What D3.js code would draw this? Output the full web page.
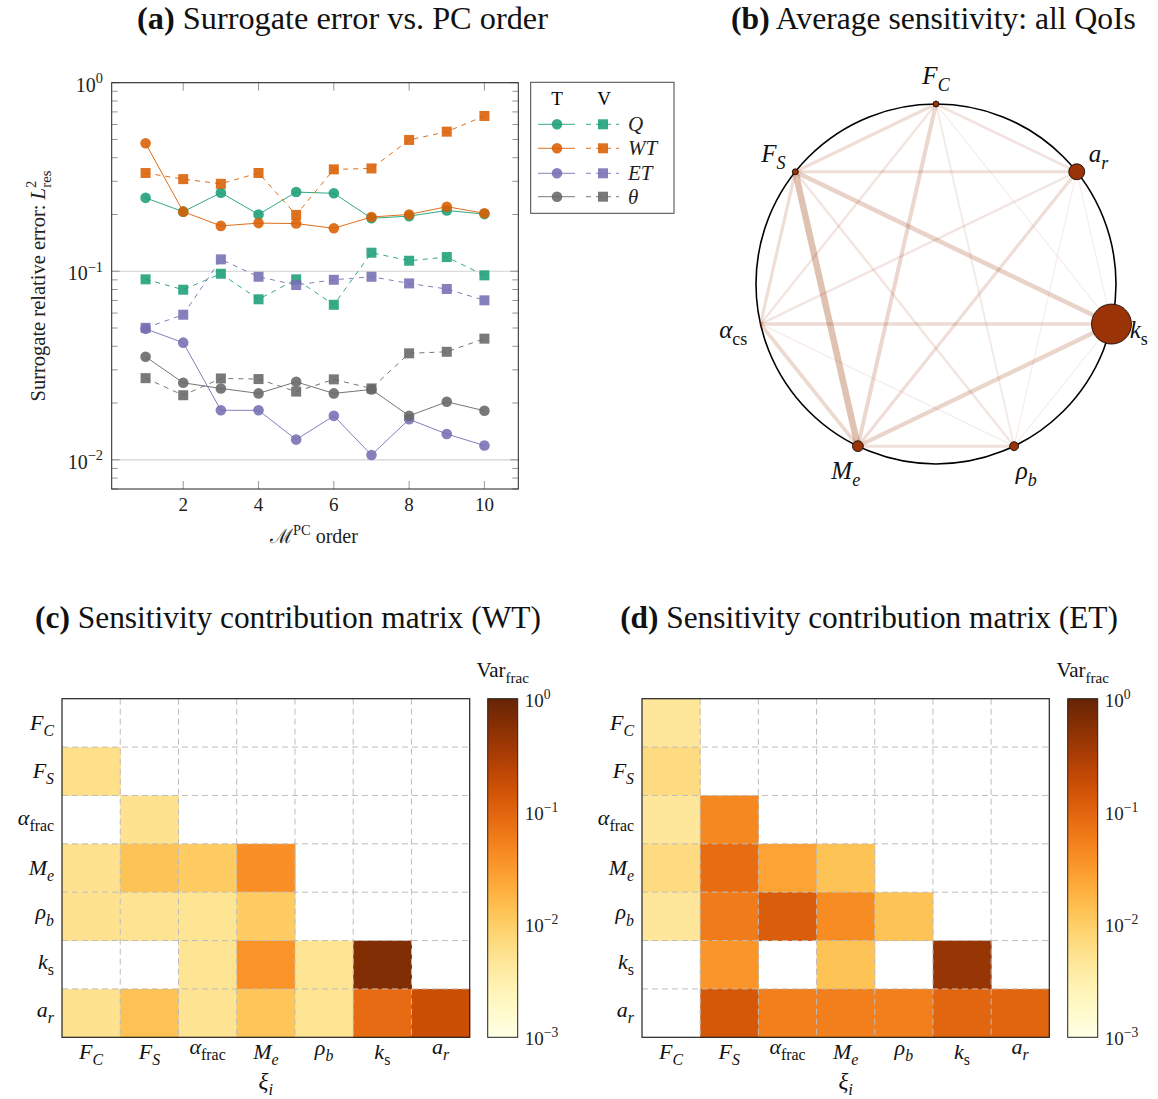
<!DOCTYPE html>
<html>
<head>
<meta charset="utf-8">
<script src="https://cdn.jsdelivr.net/npm/d3@7"></script>
<style>
  body { margin: 0; background: #fff; }
  svg { display: block; }
</style>
</head>
<body>
<svg id="fig" width="1158" height="1099"></svg>
<script>
// ---------- data ----------
const orders  = [1, 2, 3, 4, 5, 6, 7, 8, 9, 10];
const qTrain  = [0.245, 0.207, 0.261, 0.200, 0.263, 0.259, 0.191, 0.196, 0.210, 0.201];
const qVal    = [0.0906, 0.0798, 0.0970, 0.0710, 0.0906, 0.0664, 0.1254, 0.1137, 0.1189, 0.0951];
const wtTrain = [0.477, 0.207, 0.174, 0.180, 0.179, 0.169, 0.194, 0.200, 0.220, 0.203];
const wtVal   = [0.332, 0.308, 0.291, 0.332, 0.199, 0.347, 0.351, 0.497, 0.550, 0.666];
const etTrain = [0.0495, 0.0418, 0.0183, 0.0183, 0.0128, 0.0171, 0.0106, 0.0164, 0.0137, 0.0119];
const etVal   = [0.0501, 0.0588, 0.1156, 0.0935, 0.0845, 0.0901, 0.0935, 0.0862, 0.0805, 0.0701];
const thTrain = [0.0352, 0.0256, 0.0239, 0.0225, 0.0259, 0.0225, 0.0236, 0.0171, 0.0203, 0.0182];
const thVal   = [0.0271, 0.0220, 0.0270, 0.0268, 0.0230, 0.0267, 0.0239, 0.0367, 0.0374, 0.0439];
const xTicks  = [2, 4, 6, 8, 10];
const yMajor  = [0.01, 0.1, 1];

// sensitivity network: nodes clockwise from the top
const netNodes = ['F_C', 'a_r', 'k_s', 'rho_b', 'M_e', 'alpha_cs', 'F_S'];
const nodeSens = [0.011, 0.08, 0.5, 0.025, 0.037, 0, 0.011];
const netEdges = [
  ['F_C', 'a_r', 0.30], ['F_C', 'k_s', 0.05], ['F_C', 'rho_b', 0.15], ['F_C', 'M_e', 0.55],
  ['F_C', 'alpha_cs', 0.25], ['F_C', 'F_S', 0.40], ['a_r', 'k_s', 0.05], ['a_r', 'rho_b', 0.05],
  ['a_r', 'M_e', 0.40], ['a_r', 'alpha_cs', 0.25], ['a_r', 'F_S', 0.40], ['k_s', 'rho_b', 0.05],
  ['k_s', 'M_e', 0.60], ['k_s', 'alpha_cs', 0.45], ['k_s', 'F_S', 0.65], ['rho_b', 'M_e', 0.35],
  ['rho_b', 'alpha_cs', 0.08], ['rho_b', 'F_S', 0.25], ['M_e', 'alpha_cs', 0.50], ['M_e', 'F_S', 1.00],
  ['alpha_cs', 'F_S', 0.40]
];

// contribution matrices (rows/cols: F_C, F_S, alpha_frac, M_e, rho_b, k_s, a_r); null = no contribution
const matVars = ['F_C', 'F_S', 'alpha_frac', 'M_e', 'rho_b', 'k_s', 'a_r'];
const wtMatrix = [
  [null,   null,   null,   null,   null,   null,  null],
  [0.0058, null,   null,   null,   null,   null,  null],
  [null,   0.0055, null,   null,   null,   null,  null],
  [0.0055, 0.013,  0.0105, 0.038,  null,   null,  null],
  [0.0055, 0.0052, 0.005,  0.0105, null,   null,  null],
  [null,   null,   0.005,  0.035,  0.005,  0.62,  null],
  [0.0055, 0.0135, 0.0052, 0.0125, 0.005,  0.085, 0.175]
];
const etMatrix = [
  [0.0045, null,  null,  null,  null,  null,  null],
  [0.0068, null,  null,  null,  null,  null,  null],
  [0.0045, 0.045, null,  null,  null,  null,  null],
  [0.0068, 0.083, 0.026, 0.013, null,  null,  null],
  [0.0045, 0.060, 0.12,  0.042, 0.013, null,  null],
  [null,   0.034, null,  0.013, null,  0.43,  null],
  [null,   0.135, 0.055, 0.055, 0.055, 0.095, 0.10]
];
const cbTicks = [0.001, 0.01, 0.1, 1];

// ---------- helpers ----------
const SERIF = "'Liberation Serif', 'DejaVu Serif', serif";
const svg = d3.select('#fig').attr('font-family', SERIF);

// parts: {t, it, sub, sup, dx}
function rich(text, parts, size, ratio = 0.72) {
  let cur = 0;
  parts.forEach(p => {
    const off = p.sub ? 0.28 * size : p.sup ? -0.42 * size : 0;
    const ts = text.append('tspan').text(p.t)
      .attr('font-size', (p.sub || p.sup) ? ratio * size : size)
      .attr('font-style', p.it ? 'italic' : 'normal');
    if (off !== cur) ts.attr('dy', off - cur);
    if (p.dx) ts.attr('dx', p.dx);
    cur = off;
  });
  return text;
}

const sym = {
  F_C:        [{t: 'F', it: 1}, {t: 'C', it: 1, sub: 1}],
  F_S:        [{t: 'F', it: 1}, {t: 'S', it: 1, sub: 1}],
  a_r:        [{t: 'a', it: 1}, {t: 'r', it: 1, sub: 1}],
  k_s:        [{t: 'k', it: 1}, {t: 's', sub: 1}],
  rho_b:      [{t: 'ρ', it: 1}, {t: 'b', it: 1, sub: 1}],
  M_e:        [{t: 'M', it: 1}, {t: 'e', it: 1, sub: 1}],
  alpha_cs:   [{t: 'α', it: 1}, {t: 'cs', sub: 1}],
  alpha_frac: [{t: 'α', it: 1}, {t: 'frac', sub: 1}]
};
const pow10 = e => [{t: '10'}, {t: e, sup: 1}];

function title(cx, yb, tag, txt, width) {
  const t = svg.append('text').attr('x', cx).attr('y', yb)
    .attr('text-anchor', 'middle').attr('font-size', 26).attr('fill', '#111');
  t.append('tspan').attr('font-weight', 'bold').text(tag);
  t.append('tspan').text(' ' + txt);
  const w = t.node().getComputedTextLength();
  t.attr('font-size', 26 * width / w);
}

title(342.5, 29, '(a)', 'Surrogate error vs. PC order', 411);
title(933.5, 29, '(b)', 'Average sensitivity: all QoIs', 405);
title(288, 628, '(c)', 'Sensitivity contribution matrix (WT)', 506);
title(869, 628, '(d)', 'Sensitivity contribution matrix (ET)', 498);

// ---------- (a) surrogate error ----------
{
  const f = {x0: 111.7, x1: 518.3, y0: 82.7, y1: 489};
  const x = d3.scaleLinear().domain([0.1, 10.9]).range([f.x0, f.x1]);
  const y = d3.scaleLog().domain([0.007, 1]).range([f.y1, f.y0]);
  const g = svg.append('g');

  g.selectAll('.grid').data(yMajor).join('line')
    .attr('x1', f.x0).attr('x2', f.x1).attr('y1', d => y(d)).attr('y2', d => y(d))
    .attr('stroke', '#d2d2d2').attr('stroke-width', 1.2);

  const minor = [];
  [-3, -2, -1].forEach(e => d3.range(2, 10).forEach(k => {
    const v = k * Math.pow(10, e);
    if (v >= 0.007 && v < 1) minor.push(v);
  }));
  const tk = g.append('g').attr('stroke', '#8a8a8a').attr('stroke-width', 0.9);
  minor.forEach(v => {
    tk.append('line').attr('x1', f.x0).attr('x2', f.x0 + 6).attr('y1', y(v)).attr('y2', y(v));
    tk.append('line').attr('x1', f.x1 - 6).attr('x2', f.x1).attr('y1', y(v)).attr('y2', y(v));
  });
  yMajor.forEach(v => {
    tk.append('line').attr('x1', f.x0).attr('x2', f.x0 + 8).attr('y1', y(v)).attr('y2', y(v));
    tk.append('line').attr('x1', f.x1 - 8).attr('x2', f.x1).attr('y1', y(v)).attr('y2', y(v));
  });
  xTicks.forEach(v => {
    tk.append('line').attr('x1', x(v)).attr('x2', x(v)).attr('y1', f.y1).attr('y2', f.y1 - 8);
    tk.append('line').attr('x1', x(v)).attr('x2', x(v)).attr('y1', f.y0).attr('y2', f.y0 + 8);
  });

  // tick labels
  yMajor.forEach(v => {
    const e = Math.round(Math.log10(v));
    rich(g.append('text').attr('x', 103).attr('y', y(v) + 9).attr('text-anchor', 'end').attr('fill', '#222'),
      pow10(e === 0 ? '0' : '−' + (-e)), 20);
  });
  g.selectAll('.xl').data(xTicks).join('text')
    .attr('x', d => x(d)).attr('y', 511).attr('text-anchor', 'middle')
    .attr('font-size', 19).attr('fill', '#222').text(d => d);

  rich(g.append('text').attr('x', 314).attr('y', 543).attr('text-anchor', 'middle').attr('fill', '#222'),
    [{t: 'ℳ'}, {t: 'PC', sup: 1}, {t: ' order'}], 20);
  rich(g.append('text').attr('transform', 'translate(45,286) rotate(-90)').attr('text-anchor', 'middle').attr('fill', '#222'),
    [{t: 'Surrogate relative error: '}, {t: 'L', it: 1}, {t: '2', sup: 1}, {t: 'res', sub: 1, dx: -7}], 20.5);

  const series = [
    {name: 'Q',   col: '#1b9e77', tr: qTrain,  va: qVal},
    {name: 'WT',  col: '#d95f02', tr: wtTrain, va: wtVal},
    {name: 'ET',  col: '#7570b3', tr: etTrain, va: etVal},
    {name: 'θ',   col: '#666666', tr: thTrain, va: thVal}
  ];
  const line = d3.line().x(d => x(d[0])).y(d => y(d[1]));
  series.forEach(s => {
    const tr = orders.map((o, i) => [o, s.tr[i]]);
    const va = orders.map((o, i) => [o, s.va[i]]);
    g.append('path').attr('d', line(tr)).attr('fill', 'none').attr('stroke', s.col)
      .attr('stroke-width', 1).attr('stroke-opacity', 0.9);
    g.append('g').selectAll('circle').data(tr).join('circle')
      .attr('cx', d => x(d[0])).attr('cy', d => y(d[1])).attr('r', 5.3)
      .attr('fill', s.col).attr('fill-opacity', 0.88);
    g.append('path').attr('d', line(va)).attr('fill', 'none').attr('stroke', s.col)
      .attr('stroke-width', 1).attr('stroke-dasharray', '5,5').attr('stroke-opacity', 0.9);
    g.append('g').selectAll('rect').data(va).join('rect')
      .attr('x', d => x(d[0]) - 5).attr('y', d => y(d[1]) - 5).attr('width', 10).attr('height', 10)
      .attr('fill', s.col).attr('fill-opacity', 0.88);
  });

  g.append('rect').attr('x', f.x0).attr('y', f.y0).attr('width', f.x1 - f.x0).attr('height', f.y1 - f.y0)
    .attr('fill', 'none').attr('stroke', '#222').attr('stroke-width', 1);

  // legend
  const lg = svg.append('g');
  lg.append('rect').attr('x', 530.7).attr('y', 82.3).attr('width', 143.3).attr('height', 131)
    .attr('fill', '#fff').attr('stroke', '#444').attr('stroke-width', 1);
  lg.append('text').attr('x', 557).attr('y', 105).attr('text-anchor', 'middle').attr('font-size', 19).text('T');
  lg.append('text').attr('x', 604).attr('y', 105).attr('text-anchor', 'middle').attr('font-size', 19).text('V');
  const rowsY = [124.3, 148.3, 173.3, 196.7];
  series.forEach((s, i) => {
    const yy = rowsY[i];
    lg.append('line').attr('x1', 538).attr('x2', 575).attr('y1', yy).attr('y2', yy)
      .attr('stroke', s.col).attr('stroke-opacity', 0.7).attr('stroke-width', 1.2);
    lg.append('circle').attr('cx', 557).attr('cy', yy).attr('r', 5.3).attr('fill', s.col).attr('fill-opacity', 0.88);
    lg.append('line').attr('x1', 586).attr('x2', 619).attr('y1', yy).attr('y2', yy)
      .attr('stroke', s.col).attr('stroke-opacity', 0.7).attr('stroke-width', 1.2).attr('stroke-dasharray', '5,5');
    lg.append('rect').attr('x', 598).attr('y', yy - 5).attr('width', 10).attr('height', 10)
      .attr('fill', s.col).attr('fill-opacity', 0.88);
    lg.append('text').attr('x', 628).attr('y', yy + 7).attr('font-size', 21).attr('font-style', 'italic')
      .attr('fill', '#222').text(s.name);
  });
}

// ---------- (b) sensitivity network ----------
{
  const cx = 936, cy = 284, R = 180;
  const g = svg.append('g');
  const ang = d3.scaleLinear().domain([0, netNodes.length]).range([Math.PI / 2, Math.PI / 2 - 2 * Math.PI]);
  const pos = {};
  netNodes.forEach((n, i) => {
    const a = ang(i);
    pos[n] = {x: cx + R * Math.cos(a), y: cy - R * Math.sin(a), a};
  });
  const rScale = d3.scaleSqrt().domain([0, 0.5]).range([0, 20]);
  const wScale = d3.scaleLinear().domain([0, 1]).range([1, 6.5]);
  const oScale = d3.scaleLinear().domain([0, 1]).range([0.07, 0.3]);

  g.append('circle').attr('cx', cx).attr('cy', cy).attr('r', R)
    .attr('fill', 'none').attr('stroke', '#000').attr('stroke-width', 1.6);

  g.append('g').selectAll('line').data(netEdges.slice().sort((a, b) => a[2] - b[2])).join('line')
    .attr('x1', d => pos[d[0]].x).attr('y1', d => pos[d[0]].y)
    .attr('x2', d => pos[d[1]].x).attr('y2', d => pos[d[1]].y)
    .attr('stroke', '#993404').attr('stroke-width', d => wScale(d[2]))
    .attr('stroke-opacity', d => oScale(d[2]));

  netNodes.forEach((n, i) => {
    if (nodeSens[i] > 0) {
      g.append('circle').attr('cx', pos[n].x).attr('cy', pos[n].y).attr('r', rScale(nodeSens[i]))
        .attr('fill', '#9a3306').attr('stroke', '#000').attr('stroke-width', 0.8);
    }
    const a = pos[n].a, LR = 208;
    rich(g.append('text').attr('x', cx + LR * Math.cos(a)).attr('y', cy - LR * Math.sin(a) + 8)
      .attr('text-anchor', 'middle').attr('fill', '#111'), sym[n], 25);
  });
}

// ---------- (c), (d) contribution matrices ----------
const color = d3.scaleSequentialLog(d3.interpolateYlOrBr).domain([1e-3, 1]);
const baseOff = {F_C: 7, F_S: 7, alpha_frac: 5, M_e: 7, rho_b: 3, k_s: 4, a_r: 4};
const xlabBase = {F_C: 1059, F_S: 1059, alpha_frac: 1054, M_e: 1059, rho_b: 1055, k_s: 1059, a_r: 1054};

function heatmap(id, matrix, f, cb) {
  const g = svg.append('g');
  const x = d3.scaleBand().domain(matVars).range([f.x0, f.x1]);
  const y = d3.scaleBand().domain(matVars).range([f.y0, f.y1]);
  const cells = [];
  matrix.forEach((row, i) => row.forEach((v, j) => { if (v != null) cells.push({r: matVars[i], c: matVars[j], v}); }));
  g.selectAll('rect.cell').data(cells).join('rect')
    .attr('x', d => x(d.c)).attr('y', d => y(d.r))
    .attr('width', x.bandwidth() + 0.5).attr('height', y.bandwidth() + 0.5)
    .attr('fill', d => color(d.v));

  const grid = g.append('g').attr('stroke', '#bdbdbd').attr('stroke-width', 1).attr('stroke-dasharray', '6,4');
  matVars.slice(1).forEach(v => {
    grid.append('line').attr('x1', x(v)).attr('x2', x(v)).attr('y1', f.y0).attr('y2', f.y1);
    grid.append('line').attr('x1', f.x0).attr('x2', f.x1).attr('y1', y(v)).attr('y2', y(v));
  });
  g.append('rect').attr('x', f.x0).attr('y', f.y0).attr('width', f.x1 - f.x0).attr('height', f.y1 - f.y0)
    .attr('fill', 'none').attr('stroke', '#222').attr('stroke-width', 1.2);

  matVars.forEach(v => {
    rich(g.append('text').attr('x', f.x0 - 8).attr('y', y(v) + y.bandwidth() / 2 + baseOff[v])
      .attr('text-anchor', 'end').attr('fill', '#111'), sym[v], 22);
    rich(g.append('text').attr('x', x(v) + x.bandwidth() / 2).attr('y', xlabBase[v])
      .attr('text-anchor', 'middle').attr('fill', '#111'), sym[v], 22);
  });
  rich(g.append('text').attr('x', (f.x0 + f.x1) / 2).attr('y', 1089).attr('text-anchor', 'middle').attr('fill', '#111'),
    [{t: 'ξ', it: 1}, {t: 'i', it: 1, sub: 1}], 23);

  // colorbar
  const grad = svg.append('defs').append('linearGradient').attr('id', id)
    .attr('x1', 0).attr('y1', 1).attr('x2', 0).attr('y2', 0);
  d3.range(0, 1.0001, 0.05).forEach(t => grad.append('stop').attr('offset', t).attr('stop-color', d3.interpolateYlOrBr(t)));
  const cy = d3.scaleLog().domain([1e-3, 1]).range([f.y1, f.y0]);
  g.append('rect').attr('x', cb).attr('y', f.y0).attr('width', 30).attr('height', f.y1 - f.y0)
    .attr('fill', `url(#${id})`).attr('stroke', '#222').attr('stroke-width', 1);
  cbTicks.forEach(v => {
    const e = Math.round(Math.log10(v));
    rich(g.append('text').attr('x', cb + 37).attr('y', cy(v) + 8).attr('fill', '#222'),
      pow10(e === 0 ? '0' : '−' + (-e)), 19);
  });
  rich(g.append('text').attr('x', cb + 15).attr('y', 677).attr('text-anchor', 'middle').attr('fill', '#111'),
    [{t: 'Var'}, {t: 'frac', sub: 1}], 21);
}

heatmap('cbWT', wtMatrix, {x0: 62, x1: 469.7, y0: 698.7, y1: 1037.3}, 487.7);
heatmap('cbET', etMatrix, {x0: 642, x1: 1049.3, y0: 698.7, y1: 1037.3}, 1067.7);
</script>
</body>
</html>
